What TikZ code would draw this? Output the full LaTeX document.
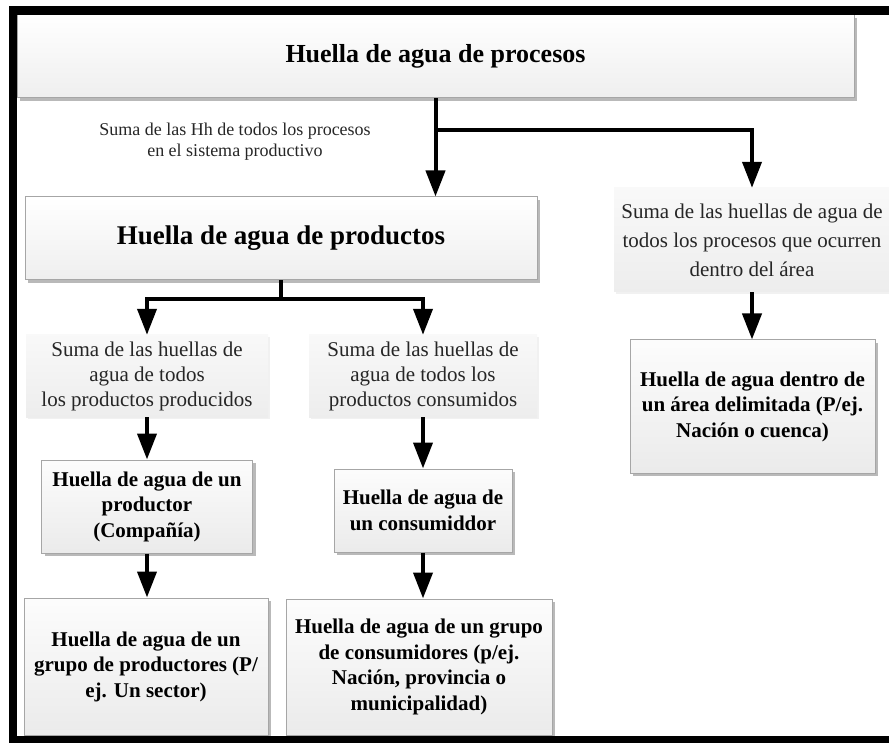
\documentclass[tikz,border=0pt]{standalone}
\usepackage{fontspec}
\setmainfont{Liberation Serif}
\usetikzlibrary{arrows.meta,shadows}

\begin{document}
\begin{tikzpicture}[x=1pt,y=-1pt,>={Triangle[width=19pt,length=26pt]},
    conn/.style={line width=4pt},
    title node/.style={draw=gray!70,line width=1pt,top color=white,bottom color=gray!13,
        drop shadow={shadow xshift=3pt,shadow yshift=-3pt,fill=black!55},inner sep=0pt,
        font=\fontsize{26}{30}\selectfont\bfseries},
    sum node/.style={top color=gray!5,bottom color=gray!14,
        drop shadow={shadow xshift=2pt,shadow yshift=-2pt,fill=gray!22},align=center,inner sep=0pt,
        text=black!85,font=\fontsize{21}{25}\selectfont},
    box node/.style={draw=gray!70,line width=1pt,top color=gray!2,bottom color=gray!16,
        drop shadow={shadow xshift=3pt,shadow yshift=-3pt,fill=black!55},align=center,inner sep=0pt,
        font=\fontsize{21}{25.5}\selectfont\bfseries}]

    \useasboundingbox (0,0) rectangle (889,743);

    \node[title node,minimum width=837pt,minimum height=83pt] (1) at (435.5,56.5) {Huella de agua de procesos};
    \node[text=black!85,align=center,font=\fontsize{18}{21}\selectfont] (0) at (235,142)
        {Suma de las Hh de todos los procesos\\en el sistema productivo};
    \node[title node,minimum width=512pt,minimum height=83pt,font=\fontsize{27}{31}\selectfont\bfseries] (2) at (281,238.5) {Huella de agua de productos};
    \node[sum node,minimum width=276pt,minimum height=104pt,font=\fontsize{21}{29}\selectfont] (3) at (752,240)
        {Suma de las huellas de agua de\\todos los procesos que ocurren\\dentro del área};

    \node[sum node,minimum width=242pt,minimum height=82pt] (4) at (147,376)
        {Suma de las huellas de\\agua de todos\\los productos producidos};
    \node[sum node,minimum width=228pt,minimum height=82pt] (5) at (423,376)
        {Suma de las huellas de\\agua de todos los\\productos consumidos};

    \node[box node,minimum width=211pt,minimum height=93pt] (6) at (147,506.5)
        {Huella de agua de un\\productor\\(Compañía)};
    \node[box node,minimum width=178pt,minimum height=83pt] (7) at (423,510.5)
        {Huella de agua de\\un consumiddor};
    \node[box node,minimum width=244pt,minimum height=137pt] (8) at (146,666.5)
        {Huella de agua de un\\grupo de productores (P/\\ej. Un sector)};
    \node[box node,minimum width=266pt,minimum height=136pt] (9) at (419,667)
        {Huella de agua de un grupo\\de consumidores (p/ej.\\Nación, provincia o\\municipalidad)};
    \node[box node,minimum width=245pt,minimum height=133pt] (10) at (752.5,406.5)
        {Huella de agua dentro de\\un área delimitada (P/ej.\\Nación o cuenca)};

    % branch points
    \coordinate (b1) at (1.south |- 0,130);
    \coordinate (b2) at (2.south |- 0,299);

    \draw[conn,->] (1.south) -- (1.south |- 2.north);
    \draw[conn,->] (b1) -| (3.north);
    \draw[conn] (2.south) -- (b2);
    \draw[conn,->] (b2) -| (4.north);
    \draw[conn,->] (b2) -| (5.north);
    \draw[conn,->] (3.south) -- (3.south |- 10.north);
    \draw[conn,->] (4.south) -- (4.south |- 6.north);
    \draw[conn,->] (5.south) -- (5.south |- 7.north);
    \draw[conn,->] (6.south) -- (6.south |- 8.north);
    \draw[conn,->] (7.south) -- (7.south |- 9.north);

    % frame
    \fill (9,6) rectangle (889,15);
    \fill (9,6) rectangle (17,743);
    \fill (9,736) rectangle (889,743);
\end{tikzpicture}
\end{document}
